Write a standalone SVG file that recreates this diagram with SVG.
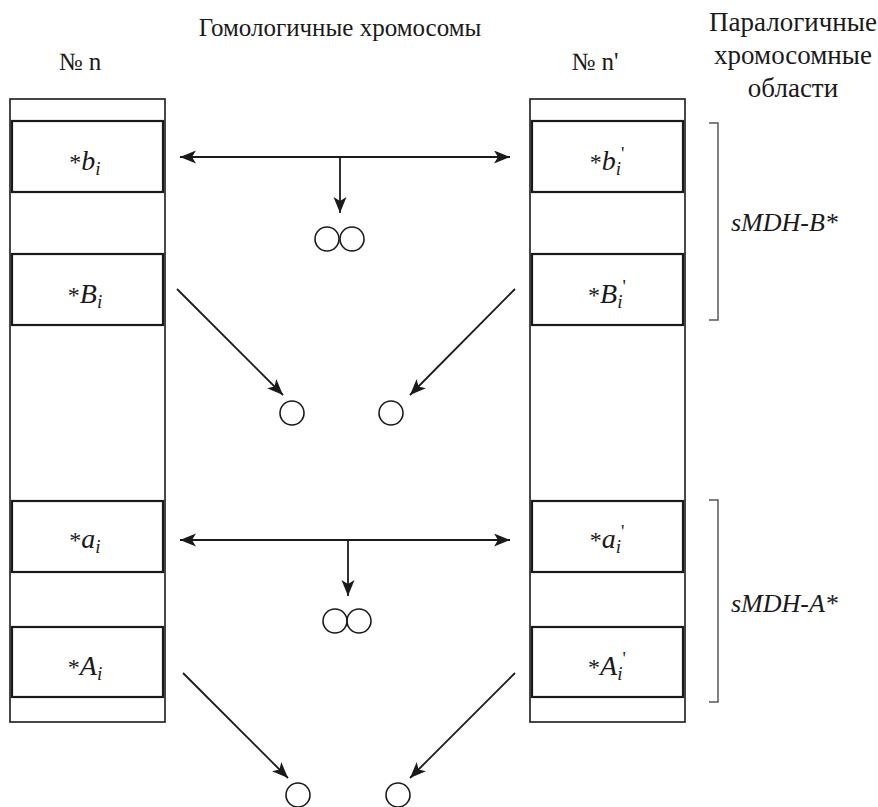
<svg xmlns="http://www.w3.org/2000/svg" width="878" height="807" viewBox="0 0 878 807" font-family="'Liberation Serif', 'Times New Roman', serif">
<style>
  text { font-family: 'Liberation Serif', 'Times New Roman', serif; fill: #1a1a1a; }
  .hdr { font-size: 25px; }
  .hdr2 { font-size: 27px; text-anchor: middle; }
  .lbl { font-size: 28px; text-anchor: middle; }
  .ast { font-size: 24px; }
  .it { font-style: italic; }
  .sub { font-size: 19px; font-style: italic; }
  .chrom { fill: none; stroke: #1a1a1a; stroke-width: 1.6; }
  .box { fill: none; stroke: #1a1a1a; stroke-width: 2.2; }
  .conn { fill: none; stroke: #1a1a1a; stroke-width: 1.8; }
  .circ { fill: none; stroke: #1a1a1a; stroke-width: 1.6; }
  .brk { fill: none; stroke: #555; stroke-width: 1.5; }
  .region { font-size: 26px; font-style: italic; }
</style>
<defs>
  <marker id="ah" markerUnits="userSpaceOnUse" markerWidth="18" markerHeight="14" refX="16" refY="6.5" orient="auto-start-reverse">
    <path d="M0,0 L16,6.5 L0,13 L4,6.5 Z" fill="#1a1a1a"/>
  </marker>
</defs>

<g id="headers">
  <text class="hdr" x="340" y="36" text-anchor="middle">Гомологичные хромосомы</text>
  <text class="hdr" x="80" y="70" text-anchor="middle">№ n</text>
  <text class="hdr" x="595" y="70" text-anchor="middle">№ n'</text>
  <text class="hdr2" x="793" y="31">Паралогичные</text>
  <text class="hdr2" x="793" y="64">хромосомные</text>
  <text class="hdr2" x="793" y="97">области</text>
</g>

<g id="chromosome-n">
  <rect class="chrom" x="10" y="99" width="155" height="623"/>
  <g id="box-bi">
    <rect class="box" x="12" y="121" width="151" height="71"/>
    <text class="lbl" x="85" y="170"><tspan class="ast">*</tspan><tspan class="it">b</tspan><tspan class="sub" dy="5">i</tspan></text>
  </g>
  <g id="box-Bi">
    <rect class="box" x="12" y="254" width="151" height="71"/>
    <text class="lbl" x="85" y="303"><tspan class="ast">*</tspan><tspan class="it">B</tspan><tspan class="sub" dy="5">i</tspan></text>
  </g>
  <g id="box-ai">
    <rect class="box" x="12" y="501" width="151" height="71"/>
    <text class="lbl" x="85" y="548"><tspan class="ast">*</tspan><tspan class="it">a</tspan><tspan class="sub" dy="5">i</tspan></text>
  </g>
  <g id="box-Ai">
    <rect class="box" x="12" y="627" width="151" height="70"/>
    <text class="lbl" x="85" y="675"><tspan class="ast">*</tspan><tspan class="it">A</tspan><tspan class="sub" dy="5">i</tspan></text>
  </g>
</g>

<g id="chromosome-n-prime">
  <rect class="chrom" x="530" y="99" width="155" height="623"/>
  <g id="box-bi-prime">
    <rect class="box" x="532" y="121" width="151" height="71"/>
    <text class="lbl" x="607" y="170"><tspan class="ast">*</tspan><tspan class="it">b</tspan><tspan class="sub" dy="5">i</tspan><tspan font-size="19" dy="-15">'</tspan></text>
  </g>
  <g id="box-Bi-prime">
    <rect class="box" x="532" y="254" width="151" height="71"/>
    <text class="lbl" x="607" y="303"><tspan class="ast">*</tspan><tspan class="it">B</tspan><tspan class="sub" dy="5">i</tspan><tspan font-size="19" dy="-15">'</tspan></text>
  </g>
  <g id="box-ai-prime">
    <rect class="box" x="532" y="501" width="151" height="71"/>
    <text class="lbl" x="607" y="548"><tspan class="ast">*</tspan><tspan class="it">a</tspan><tspan class="sub" dy="5">i</tspan><tspan font-size="19" dy="-15">'</tspan></text>
  </g>
  <g id="box-Ai-prime">
    <rect class="box" x="532" y="627" width="151" height="70"/>
    <text class="lbl" x="607" y="675"><tspan class="ast">*</tspan><tspan class="it">A</tspan><tspan class="sub" dy="5">i</tspan><tspan font-size="19" dy="-15">'</tspan></text>
  </g>
</g>

<g id="products">
  <circle class="circ" cx="327" cy="239" r="12"/>
  <circle class="circ" cx="352" cy="239" r="12"/>
  <circle class="circ" cx="292" cy="413" r="12"/>
  <circle class="circ" cx="391" cy="413" r="12"/>
  <circle class="circ" cx="335" cy="621" r="12"/>
  <circle class="circ" cx="359" cy="621" r="12"/>
  <circle class="circ" cx="298" cy="795" r="12"/>
  <circle class="circ" cx="398" cy="795" r="12"/>
</g>

<g id="connectors">
  <line class="conn" x1="180" y1="157" x2="510" y2="157" marker-start="url(#ah)" marker-end="url(#ah)"/>
  <line class="conn" x1="340" y1="157" x2="340" y2="213" marker-end="url(#ah)"/>
  <line class="conn" x1="177" y1="289" x2="283" y2="395" marker-end="url(#ah)"/>
  <line class="conn" x1="515" y1="289" x2="410" y2="395" marker-end="url(#ah)"/>
  <line class="conn" x1="180" y1="540" x2="510" y2="540" marker-start="url(#ah)" marker-end="url(#ah)"/>
  <line class="conn" x1="348" y1="540" x2="348" y2="596" marker-end="url(#ah)"/>
  <line class="conn" x1="183" y1="673" x2="288" y2="778" marker-end="url(#ah)"/>
  <line class="conn" x1="515" y1="673" x2="410" y2="778" marker-end="url(#ah)"/>
</g>

<g id="region-B">
  <path class="brk" d="M709,123 H718 V320 H709"/>
  <text class="region" x="731" y="231">sMDH-B*</text>
</g>
<g id="region-A">
  <path class="brk" d="M709,500 H718 V702 H709"/>
  <text class="region" x="731" y="612">sMDH-A*</text>
</g>
</svg>
